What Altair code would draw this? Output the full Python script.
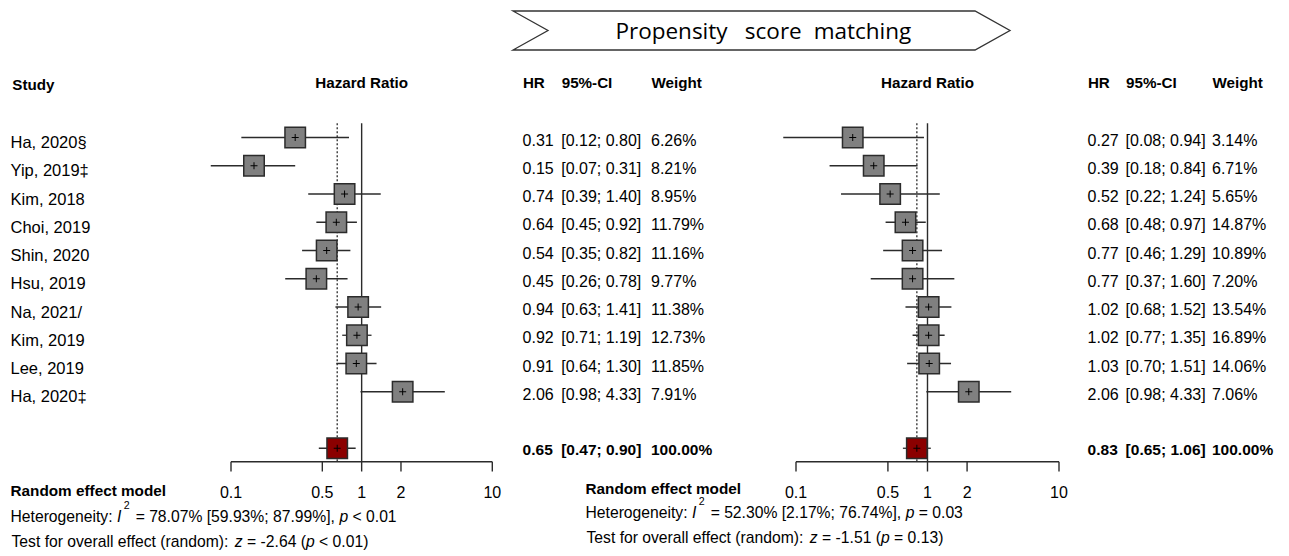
import altair as alt
import pandas as pd

# ---------------- data ----------------
studies = ["Ha, 2020§", "Yip, 2019‡", "Kim, 2018", "Choi, 2019", "Shin, 2020",
           "Hsu, 2019", "Na, 2021/", "Kim, 2019", "Lee, 2019", "Ha, 2020‡"]

# left panel (overall)
hr_a = [0.31, 0.15, 0.74, 0.64, 0.54, 0.45, 0.94, 0.92, 0.91, 2.06]
lo_a = [0.12, 0.07, 0.39, 0.45, 0.35, 0.26, 0.63, 0.71, 0.64, 0.98]
hi_a = [0.80, 0.31, 1.40, 0.92, 0.82, 0.78, 1.41, 1.19, 1.30, 4.33]
w_a = [6.26, 8.21, 8.95, 11.79, 11.16, 9.77, 11.38, 12.73, 11.85, 7.91]
pooled_a = [0.65, 0.47, 0.90, 100.00]

# right panel (propensity score matching)
hr_p = [0.27, 0.39, 0.52, 0.68, 0.77, 0.77, 1.02, 1.02, 1.03, 2.06]
lo_p = [0.08, 0.18, 0.22, 0.48, 0.46, 0.37, 0.68, 0.77, 0.70, 0.98]
hi_p = [0.94, 0.84, 1.24, 0.97, 1.29, 1.60, 1.52, 1.35, 1.51, 4.33]
w_p = [3.14, 6.71, 5.65, 14.87, 10.89, 7.20, 13.54, 16.89, 14.06, 7.06]
pooled_p = [0.83, 0.65, 1.06, 100.00]

het_a = ["78.07%", "[59.93%; 87.99%]", "< 0.01"]
het_p = ["52.30%", "[2.17%; 76.74%]", "= 0.03"]
test_a = ["-2.64", "< 0.01"]
test_p = ["-1.51", "= 0.13"]

ticks = [0.1, 0.5, 1, 2, 10]
tick_labels = ["0.1", "0.5", "1", "2", "10"]
banner_title = "Propensity score matching"

# ---------------- layout helpers ----------------
M = 8  # page margin


def X(v):
    return v - M


FONT = "Liberation Sans"
INK = "#2b2b2b"
ys = alt.Scale(domain=[0, 11], range=[X(137.5), X(448.25)], nice=False, zero=False)

# Arial / Liberation Sans advance widths (per 1000 em)
AW = {' ': 278, '%': 889, '(': 333, ')': 333, ',': 278, '-': 333, '.': 278, ':': 278,
      ';': 278, '<': 584, '=': 584, '[': 278, ']': 278, 'H': 722, 'T': 611, 'I': 278,
      'a': 556, 'c': 500, 'd': 556, 'e': 556, 'f': 278, 'g': 556, 'i': 222, 'l': 222,
      'm': 833, 'n': 556, 'o': 556, 'p': 556, 'r': 333, 's': 500, 't': 278, 'v': 500,
      'y': 500, 'z': 500}
for d in "0123456789":
    AW[d] = 556


def tw(s, size):
    return sum(AW.get(c, 556) for c in s) * size / 1000.0


def label(s, x, y, size, bold=False, italic=False, align="left", font=FONT):
    return alt.Chart(alt.Data(values=[{"t": s}])).mark_text(
        align=align, baseline="alphabetic", font=font, fontSize=size,
        fontWeight="bold" if bold else "normal",
        fontStyle="italic" if italic else "normal", color="black"
    ).encode(x=alt.value(X(x)), y=alt.value(X(y)), text="t:N")


def stat_line(pieces, x0, base, size):
    out = []
    x = x0
    for s, style in pieces:
        if style == "sup":
            sz, yy = size * 0.68, base - 13
            x += 2.5  # italic correction after the I
        else:
            sz, yy = size, base
        lead = len(s) - len(s.lstrip(" "))
        out.append(label(s.strip(" "), x + tw(s[:lead], sz), yy, sz, italic=(style == "it")))
        x += tw(s, sz)
        if style == "sup":
            x += 1.5
    return out


def forest(hr, lo, hi, pooled, xr):
    xs = alt.Scale(type="log", domain=[0.1, 10], range=[X(xr[0]), X(xr[1])], nice=False)
    n = len(hr)
    df = pd.DataFrame({
        "row": list(range(n)) + [11],
        "hr": hr + [pooled[0]],
        "lo": lo + [pooled[1]],
        "hi": hi + [pooled[2]],
        "kind": ["study"] * n + ["pooled"],
    })

    def xe(f):
        return alt.X(f"{f}:Q", scale=xs, axis=None)

    ye = alt.Y("row:Q", scale=ys, axis=None)
    tdf = pd.DataFrame({"t": ticks, "lab": tick_labels})
    L = []
    # null line
    L.append(alt.Chart(alt.Data(values=[{"v": 1}])).mark_rule(color=INK, strokeWidth=1.4)
             .encode(x=xe("v"), y=alt.value(X(123.3)), y2=alt.value(X(461.7))))
    # pooled estimate dotted line
    L.append(alt.Chart(alt.Data(values=[{"v": pooled[0]}])).mark_rule(
        color=INK, strokeWidth=1.3, strokeDash=[2, 2])
        .encode(x=xe("v"), y=alt.value(X(123.3)), y2=alt.value(X(461.7))))
    # axis line
    L.append(alt.Chart(alt.Data(values=[{"a": ticks[0], "b": ticks[-1]}])).mark_rule(
        color=INK, strokeWidth=1.4)
        .encode(x=xe("a"), x2="b:Q", y=alt.value(X(461.7))))
    # ticks
    L.append(alt.Chart(tdf).mark_rule(color=INK, strokeWidth=1.4)
             .encode(x=xe("t"), y=alt.value(X(461.7)), y2=alt.value(X(471.5))))
    # tick labels
    L.append(alt.Chart(tdf).mark_text(font=FONT, fontSize=16, align="center",
                                      baseline="alphabetic", color="black")
             .encode(x=xe("t"), y=alt.value(X(498.3)), text="lab:N"))
    # CIs
    L.append(alt.Chart(df).mark_rule(color=INK, strokeWidth=1.3)
             .encode(x=xe("lo"), x2="hi:Q", y=ye))
    # squares
    L.append(alt.Chart(df).mark_square(size=420, filled=True, opacity=1, stroke=INK,
                                       strokeWidth=1.5)
             .encode(x=xe("hr"), y=ye,
                     fill=alt.condition(alt.datum.kind == "pooled",
                                        alt.value("#8B0000"), alt.value("#808080"))))
    # centre crosses
    L.append(alt.Chart(df).mark_point(shape="M-1,0L1,0M0,-1L0,1", size=49, filled=False,
                                      opacity=1, color="black", strokeWidth=1)
             .encode(x=xe("hr"), y=ye))
    # header
    L.append(alt.Chart(alt.Data(values=[{"v": 1, "t": "Hazard Ratio"}])).mark_text(
        font=FONT, fontSize=15.2, fontWeight="bold", align="center",
        baseline="alphabetic", color="black")
        .encode(x=xe("v"), y=alt.value(X(87.5)), text="t:N"))
    return L


def table(hr, lo, hi, w, pooled, cols):
    n = len(hr)
    df = pd.DataFrame({
        "row": list(range(n)),
        "a": [f"{v:.2f}" for v in hr],
        "b": [f"[{l:.2f}; {h:.2f}]" for l, h in zip(lo, hi)],
        "c": [f"{v:.2f}%" for v in w],
    })
    pdf = pd.DataFrame({
        "row": [11],
        "a": [f"{pooled[0]:.2f}"],
        "b": [f"[{pooled[1]:.2f}; {pooled[2]:.2f}]"],
        "c": [f"{pooled[3]:.2f}%"],
    })
    ye = alt.Y("row:Q", scale=ys, axis=None)
    L = []
    heads = ["HR", "95%-CI", "Weight"]
    for f, x, h, hx in zip(["a", "b", "c"], cols, heads, [0.3, 0.5, 0.5]):
        L.append(alt.Chart(df).mark_text(font=FONT, fontSize=16, align="left",
                                         baseline="alphabetic", dy=8.1, color="black")
                 .encode(x=alt.value(X(x)), y=ye, text=f"{f}:N"))
        L.append(alt.Chart(pdf).mark_text(font=FONT, fontSize=15.5, fontWeight="bold",
                                          align="left", baseline="alphabetic", dy=6.3,
                                          color="black")
                 .encode(x=alt.value(X(x)), y=ye, text=f"{f}:N"))
        L.append(label(h, x + hx, 87.5, 15.2, bold=True))
    return L


layers = []

# banner
layers.append(alt.Chart(alt.Data(values=[{}])).mark_point(
    shape="M-1,-0.0785L0.8592,-0.0785L1,0L0.8592,0.0785L-1,0.0785L-0.8592,0Z",
    size=497 ** 2, filled=True, fill="white", stroke="#333333", strokeWidth=1.3, opacity=1)
    .encode(x=alt.value(X(761.5)), y=alt.value(X(30.5))))
for word, cx in zip(banner_title.split(" "), [671.5, 773.3, 862.5]):
    layers.append(label(word, cx, 39, 22.5, align="center", font="Open Sans"))

# left column
layers.append(label("Study", 12.3, 90, 15.2, bold=True))
sdf = pd.DataFrame({"row": list(range(len(studies))), "s": studies})
layers.append(alt.Chart(sdf).mark_text(font=FONT, fontSize=16.5, align="left",
                                       baseline="alphabetic", dy=10.5, color="black")
              .encode(x=alt.value(X(10.5)), y=alt.Y("row:Q", scale=ys, axis=None), text="s:N"))

# forest panels
layers += forest(hr_a, lo_a, hi_a, pooled_a, (231, 492.3))
layers += forest(hr_p, lo_p, hi_p, pooled_p, (796, 1059))

# tables
layers += table(hr_a, lo_a, hi_a, w_a, pooled_a, (522.6, 561.2, 651))
layers += table(hr_p, lo_p, hi_p, w_p, pooled_p, (1087.6, 1125.6, 1212))

# bottom statistics
FS = 15.7
for (x0, b0), het, tst in [((10.5, 496), het_a, test_a), ((585.5, 494), het_p, test_p)]:
    layers.append(label("Random effect model", x0, b0, 15.3, bold=True))
    layers += stat_line([("Heterogeneity: ", "n"), ("I", "it"), ("2", "sup"),
                         (" = " + het[0] + " " + het[1] + ", ", "n"), ("p", "it"),
                         (" " + het[2], "n")], x0, b0 + 25.7 if x0 < 100 else b0 + 24.3, FS)
    layers += stat_line([("Test for overall effect (random): ", "n"), ("z", "it"),
                         (" = " + tst[0] + " (", "n"), ("p", "it"), (" " + tst[1] + ")", "n")],
                        x0 + 1, b0 + 50.7 if x0 < 100 else b0 + 49.3, FS)

chart = (
    alt.layer(*layers)
    .resolve_scale(x="independent")
    .properties(width=1273, height=548, padding=0,
                autosize=alt.AutoSizeParams(type="none"), background="white")
    .configure_view(stroke=None)
)

chart.save("out.html", embed_options={"renderer": "svg", "actions": False})
